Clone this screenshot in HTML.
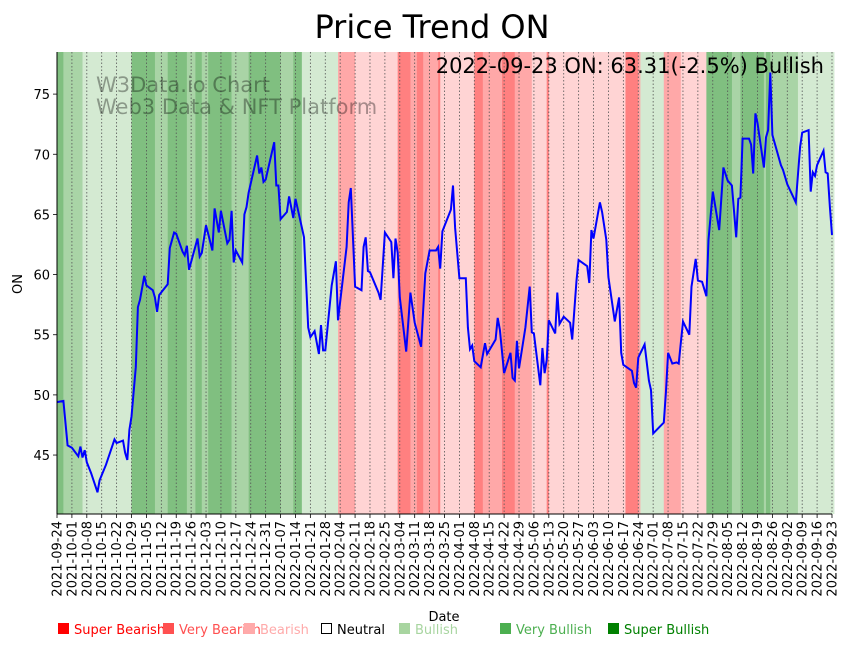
<!DOCTYPE html>
<html><head><meta charset="utf-8"><style>
body{margin:0;background:#fff;font-family:"DejaVu Sans","Liberation Sans",sans-serif;}
svg text{font-family:"DejaVu Sans","Liberation Sans",sans-serif;}
</style></head><body>
<svg id="chart" width="848" height="646" viewBox="0 0 848 646" xmlns="http://www.w3.org/2000/svg">
<text x="432" y="38" font-size="32" text-anchor="middle">Price Trend ON</text>
<g id="bands"></g>
<g id="grid"></g>
<g fill="#000" fill-opacity="0.35" font-size="21">
<text x="96" y="92">W3Data.io Chart</text><text x="96" y="114">Web3 Data &amp; NFT Platform</text></g>
<path id="line" fill="none" stroke="#0000ff" stroke-width="2"/>
<text x="824" y="73" font-size="21" text-anchor="end">2022-09-23 ON: 63.31(-2.5%) Bullish</text>
<g id="axes"></g>
<text transform="translate(22,284) rotate(-90)" font-size="13" text-anchor="middle">ON</text>
<text x="444" y="621" font-size="13" text-anchor="middle">Date</text>
<g font-size="13">
<g><rect x="58" y="623" width="11" height="11" fill="#ff0000"/><text x="74" y="634" fill="#ff0000">Super Bearish</text></g>
<g><rect x="163" y="623" width="11" height="11" fill="#ff5050"/><text x="179" y="634" fill="#ff5050">Very Bearish</text></g>
<g><rect x="244" y="623" width="11" height="11" fill="#ffaaaa"/><text x="260" y="634" fill="#ffaaaa">Bearish</text></g>
<g><rect x="321.5" y="623.5" width="10" height="10" fill="none" stroke="#000"/><text x="337" y="634">Neutral</text></g>
<g><rect x="399" y="623" width="11" height="11" fill="#a8d5a0"/><text x="415" y="634" fill="#a8d5a0">Bullish</text></g>
<g><rect x="500" y="623" width="11" height="11" fill="#4caf50"/><text x="516" y="634" fill="#4caf50">Very Bullish</text></g>
<g><rect x="608" y="623" width="11" height="11" fill="#008000"/><text x="624" y="634" fill="#008000">Super Bullish</text></g>
</g>
</svg>
<script>
const days=[0,3,5,7,10,11,12,13,14,16,19,20,23,27,28,31,32,33,34,35,37,38,39,41,42,45,46,47,48,52,53,55,56,59,60,61,62,66,67,68,70,73,74,76,77,80,81,82,83,84,87,88,89,90,94,95,96,97,98,102,103,104,105,108,109,111,112,116,118,119,121,123,124,125,126,129,131,132,136,137,138,140,143,144,145,146,147,151,152,154,157,158,159,160,161,164,166,168,171,173,175,178,179,180,181,185,186,187,189,192,193,194,195,196,199,201,202,206,207,208,210,213,214,215,216,217,220,222,223,224,227,228,229,230,231,234,235,236,238,241,242,244,245,249,250,251,252,255,256,258,259,262,264,265,266,270,271,272,273,276,278,279,280,285,286,287,289,291,292,294,297,298,300,301,303,305,306,308,311,313,315,317,319,320,321,322,325,326,327,328,329,332,333,334,335,336,340,341,343,347,349,350,353,354,355,356,357,360,361,362,363,364];
const prices=[49.4,49.5,45.8,45.6,44.9,45.7,44.8,45.4,44.4,43.5,41.9,42.9,44.2,46.3,46.0,46.2,45.2,44.6,47.1,48.2,52.3,57.3,57.9,59.9,59.1,58.7,58.1,56.9,58.3,59.2,62.2,63.5,63.4,61.9,61.6,62.4,60.4,63.0,61.5,61.8,64.1,62.0,65.5,63.5,65.3,62.6,62.9,65.3,61.0,62.0,61.0,65.0,65.6,66.8,69.9,68.4,68.9,67.7,67.9,71.0,67.4,67.4,64.6,65.2,66.5,64.7,66.3,63.1,55.6,54.8,55.3,53.4,55.8,53.7,53.7,59.1,61.1,56.2,62.3,66.0,67.2,59.0,58.7,62.3,63.1,60.3,60.2,58.5,57.9,63.5,62.7,59.7,63.0,61.8,58.1,53.6,58.5,56.0,54.0,60.1,62.0,62.0,62.3,60.5,63.6,65.4,67.4,63.9,59.7,59.7,55.6,53.8,54.1,52.8,52.3,54.3,53.4,54.6,56.4,55.4,51.8,53.5,51.4,51.2,54.5,52.2,55.6,59.0,55.2,55.1,50.8,53.9,51.8,52.9,56.2,55.1,58.5,55.9,56.5,56.0,54.6,59.5,61.2,60.7,59.3,63.7,63.0,66.0,65.2,62.9,59.8,56.1,58.1,53.5,52.5,52.0,51.0,50.6,53.1,54.2,51.2,50.4,46.8,47.7,50.2,53.5,52.6,52.7,52.6,56.1,55.0,59.0,61.3,59.5,59.4,58.2,62.9,66.9,63.7,68.9,67.8,67.4,63.1,66.3,66.4,71.3,71.3,70.8,68.4,73.4,72.6,68.9,71.4,72.0,76.8,71.6,69.1,68.7,67.5,66.0,70.6,71.8,72.0,66.9,68.5,68.2,69.1,70.3,68.5,68.4,65.6,63.3];
const bandStart=[0,3,12,35,46,52,61,65,68,71,82,90,105,111,115,132,140,160,166,169,172,179,180,196,200,209,215,223,230,231,267,273,274,285,293,305,317,321,332,333,335,348];
const bandEnd=[3,12,35,46,52,61,65,68,71,82,90,105,111,115,132,140,160,166,169,172,179,180,196,200,209,215,223,230,231,267,273,274,285,293,305,317,321,332,333,335,348,365];
const bandLevel=[5,4,3,5,4,5,4,5,4,5,4,5,4,5,3,-2,-1,-3,-2,-3,-2,-3,-1,-3,-2,-3,-2,-1,-3,-1,-3,-2,3,-2,-1,5,4,5,4,5,4,3];
const yTicks=[45,50,55,60,65,70,75];
const startDate=new Date(Date.UTC(2021,8,24));
const NS="http://www.w3.org/2000/svg";
const X0=57,X1=832,Y0=514,Y1=52,D0=0,D1=364,V0=40.1,V1=78.5;
const xs=d=>X0+(d-D0)/(D1-D0)*(X1-X0);
const ys=v=>Y0-(v-V0)/(V1-V0)*(Y0-Y1);
const colors={5:"#80bf80",4:"#a9d4a6",3:"#d4ead2","-1":"#ffd4d4","-2":"#ffa8a8","-3":"#ff8080"};
function mk(tag,attrs,parent){const e=document.createElementNS(NS,tag);for(const k in attrs)e.setAttribute(k,attrs[k]);parent.appendChild(e);return e;}
const bands=document.getElementById('bands');
for(let i=0;i<bandStart.length;i++){
 const r=mk('rect',{x:xs(bandStart[i]),y:Y1,width:xs(bandEnd[i])-xs(bandStart[i])+0.3,height:Y0-Y1,fill:colors[bandLevel[i]]},bands);
 
 
}
const grid=document.getElementById('grid'),axes=document.getElementById('axes');
for(let d=0;d<=364;d+=7){
 const x=xs(d);
 const g=mk('line',{x1:x,x2:x,y1:Y1,y2:Y0,stroke:"#555","stroke-width":0.8,"stroke-dasharray":"1.5,2"},grid);
 
 
 mk('line',{x1:x,x2:x,y1:Y0,y2:Y0+4,stroke:"#000","stroke-width":0.8},axes);
 const dt=new Date(startDate.getTime()+d*86400000);
 const s=dt.toISOString().slice(0,10);
 const t=mk('text',{transform:`translate(${x+4.5},${Y0+7}) rotate(-90)`,"font-size":13,"text-anchor":"end"},axes);
 t.textContent=s;
 
 
}
yTicks.forEach(v=>{
 const y=ys(v);
 mk('line',{x1:X0-4,x2:X0,y1:y,y2:y,stroke:"#000","stroke-width":0.8},axes);
 const t=mk('text',{x:X0-7,y:y+5,"font-size":13,"text-anchor":"end"},axes);
 t.textContent=v;
 
 
});
mk('line',{x1:X0,x2:X0,y1:Y1,y2:Y0,stroke:"#000","stroke-width":1},axes);
mk('line',{x1:X0,x2:X1,y1:Y0,y2:Y0,stroke:"#000","stroke-width":1},axes);
document.getElementById('line').setAttribute('d',days.map((d,i)=>(i?'L':'M')+xs(d).toFixed(1)+','+ys(prices[i]).toFixed(1)).join(''));
</script>
</body></html>
